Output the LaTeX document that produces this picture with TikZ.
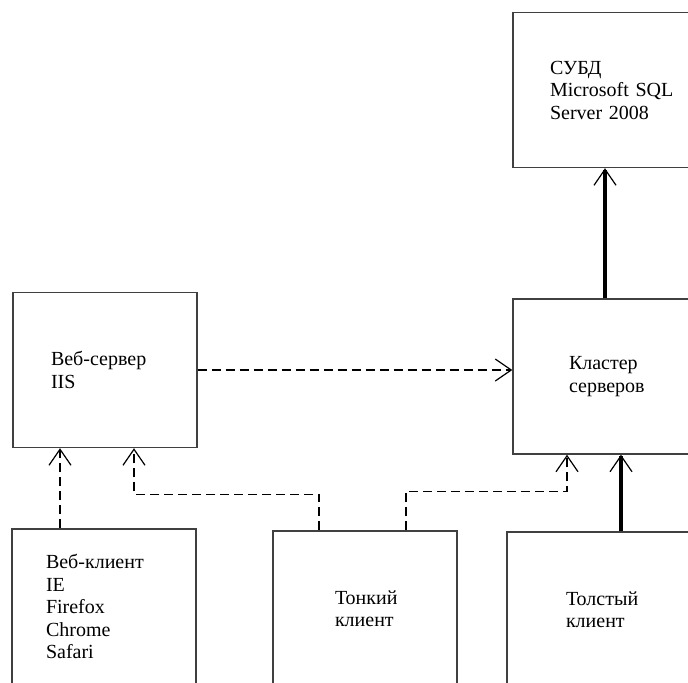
\documentclass[tikz,border=0pt]{standalone}
\usepackage{fontspec}
\setmainfont{Liberation Serif}
\usetikzlibrary{arrows.meta}
\tikzset{
    %Define standard arrow tip
    >={Straight Barb[length=8pt,width=11pt,line width=0.6pt]},
    %Define style for boxes
    blok/.style={
           rectangle,
           draw=black!75, line width=0.7pt,
           minimum width=92pt,
           minimum height=77.5pt,
           inner sep=0pt,
           text width=#1,
           align=left,
           font=\fontsize{10pt}{11.25pt}\selectfont},
    % Define arrow styles
    zav/.style={
           ->,
           dash pattern=on 4.5pt off 2.5pt,
           line width=0.6pt},
    svyaz/.style={
           ->,
           line width=1.8pt}
}

\begin{document}
\begin{tikzpicture}[x=0.5pt, y=-0.5pt]
\useasboundingbox (0,0) rectangle (688,682);
\clip (0,0) rectangle (688,682);

%servers
\node[blok=55pt] (subd) at (605,90) {СУБД\\Microsoft~SQL\\Server 2008};
\node[blok=36pt] (klaster) at (605,376.5) {Кластер\\серверов};
\node[blok=54pt] (vebserver) at (105,370) {Веб-сервер\\IIS};

%clients
\node[blok=58pt] (vebklient) at (104,606.5) {Веб-клиент\\IE\\Firefox\\Chrome\\Safari};
\node[blok=30pt] (tonkiy) at (365,608.5) {Тонкий\\клиент};
\node[blok=33pt] (tolstyy) at (599,609.5) {Толстый\\клиент};

%links
\draw[svyaz] (klaster.north) -- (subd.south);
\draw[zav] (vebserver.east) -- (vebserver.east -| klaster.west);
\draw[zav] ([xshift=-22pt]vebklient.north) -- ([xshift=-22pt]vebklient.north |- vebserver.south);
\draw[zav] ([xshift=-23pt]tonkiy.north) -- ++(0,-36) -| ([xshift=14.5pt]vebserver.south);
\draw[zav] ([xshift=20.5pt]tonkiy.north) -- ++(0,-39) -| ([xshift=-19pt]klaster.south);
\draw[svyaz] ([xshift=11pt]tolstyy.north) -- ([xshift=11pt]tolstyy.north |- klaster.south);

\end{tikzpicture}
\end{document}
